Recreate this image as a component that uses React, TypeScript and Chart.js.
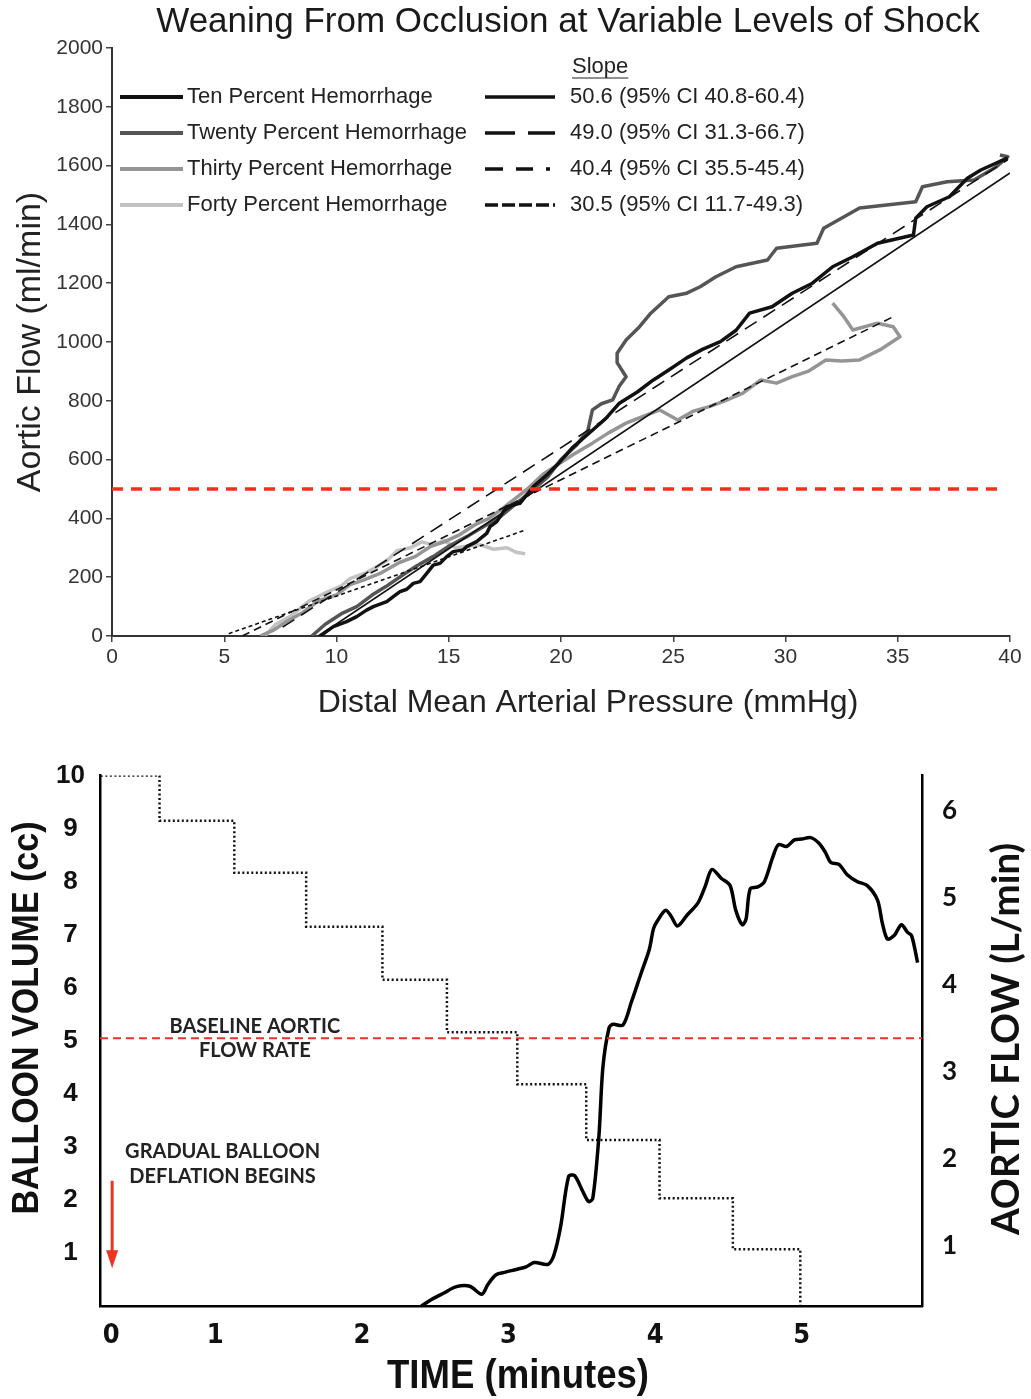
import { useEffect, useRef } from 'react';
import { Chart, registerables } from 'chart.js';

Chart.register(...registerables);

// ================= TOP CHART DATA =================
const topTitle = 'Weaning From Occlusion at Variable Levels of Shock';
const topXTitle = 'Distal Mean Arterial Pressure (mmHg)';
const topYTitle = 'Aortic Flow (ml/min)';
const seriesLabels = [
  'Ten Percent Hemorrhage',
  'Twenty Percent Hemorrhage',
  'Thirty Percent Hemorrhage',
  'Forty Percent Hemorrhage',
];
const slopeHeader = 'Slope';
const slopeLabels = [
  '50.6 (95% CI 40.8-60.4)',
  '49.0 (95% CI 31.3-66.7)',
  '40.4 (95% CI 35.5-45.4)',
  '30.5 (95% CI 11.7-49.3)',
];

const tenPercent: [number, number][] = [
  [9.27, 0], [9.86, 32], [10.45, 49], [10.9, 66], [11.34, 88], [11.64, 100], [12.24, 117],
  [12.53, 134], [12.83, 151], [13.13, 159], [13.42, 179], [13.72, 185], [14.02, 213],
  [14.31, 241], [14.61, 247], [14.91, 270], [15.2, 287], [15.65, 293], [15.8, 304],
  [16.24, 321], [16.69, 349], [16.84, 372], [17.14, 389], [17.43, 423], [17.58, 440],
  [18.17, 451], [18.77, 508], [19.4, 550], [19.95, 592], [20.5, 640], [21.4, 700],
  [22.0, 740], [22.6, 792], [23.4, 830], [24.1, 870], [24.8, 905], [25.6, 946], [26.3, 975],
  [27.1, 1001], [27.8, 1040], [28.4, 1098], [29.4, 1120], [30.3, 1166], [31.2, 1200],
  [32.1, 1256], [33.0, 1290], [34.1, 1336], [35.7, 1364], [35.8, 1421], [36.3, 1460],
  [37.3, 1494], [38.1, 1557], [38.7, 1585], [39.9, 1626],
];
const twentyPercent: [number, number][] = [
  [8.9, 0], [9.5, 40], [10.2, 75], [10.9, 100], [11.6, 140], [12.2, 168], [13.0, 210],
  [13.6, 240], [14.3, 270], [15.0, 305], [15.8, 338], [16.5, 370], [17.3, 406], [18.0, 450],
  [18.75, 497], [19.4, 540], [20.0, 600], [20.7, 650], [21.2, 700], [21.4, 769], [21.8, 790],
  [22.3, 803], [22.6, 850], [22.9, 882], [22.5, 930], [22.5, 962], [22.9, 1007], [23.5, 1052],
  [24.0, 1098], [24.8, 1154], [25.6, 1166], [26.2, 1188], [26.9, 1222], [27.8, 1256],
  [29.2, 1279], [29.6, 1319], [31.4, 1336], [31.7, 1387], [33.3, 1456], [35.8, 1477],
  [36.1, 1528], [37.2, 1545], [38.4, 1551], [39.4, 1596], [39.9, 1630], [39.55, 1636],
];
const thirtyPercent: [number, number][] = [
  [6.6, 0], [7.2, 20], [7.8, 50], [8.5, 80], [9.2, 120], [10.0, 140], [10.6, 175], [11.2, 190],
  [12.0, 215], [12.8, 250], [13.5, 270], [14.2, 305], [14.8, 320], [15.5, 345], [16.2, 380],
  [16.8, 400], [17.5, 440], [18.0, 470], [18.5, 500], [19.2, 550], [19.96, 588], [20.6, 620],
  [21.4, 656], [22.1, 690], [22.9, 724], [23.6, 745], [24.4, 769], [25.2, 735], [25.9, 765],
  [26.6, 780], [27.3, 800], [28.1, 826], [28.9, 871], [29.6, 860], [30.3, 882], [31.0, 900],
  [31.8, 939], [32.5, 935], [33.3, 939], [34.2, 973], [35.1, 1018], [34.8, 1052], [34.1, 1064],
  [33.0, 1041], [32.6, 1086], [32.1, 1132],
];
const fortyPercent: [number, number][] = [
  [6.8, 0], [7.3, 40], [8.0, 70], [8.8, 120], [9.6, 150], [10.2, 170], [10.6, 195], [11.3, 215],
  [11.8, 235], [12.3, 260], [12.7, 290], [13.3, 300], [13.8, 320], [14.3, 310], [14.8, 325],
  [15.3, 300], [15.8, 305], [16.4, 310], [17.0, 295], [17.6, 300], [18.0, 285], [18.4, 280],
];

const tenFit: [number, number][] = [[9.2, 0], [40, 1575]];
const twentyFit: [number, number][] = [[7.6, 30], [39.9, 1620]];
const thirtyFit: [number, number][] = [[5.8, 0], [34.8, 1086]];
const fortyFit: [number, number][] = [[5.2, 8], [18.4, 360]];
const flowThreshold: [number, number][] = [[0, 500], [39.7, 500]];

const topXRange = [0, 40];
const topYRange = [0, 2000];

// ================= BOTTOM CHART DATA =================
const bottomXTitle = 'TIME (minutes)';
const leftTitle = 'BALLOON VOLUME (cc)';
const rightTitle = 'AORTIC FLOW (L/min)';
const baselineText = ['BASELINE AORTIC', 'FLOW RATE'];
const deflationText = ['GRADUAL BALLOON', 'DEFLATION BEGINS'];
const timeTickValues = [0.29, 1, 2, 3, 4, 5];
const timeTickLabels = ['0', '1', '2', '3', '4', '5'];
const volumeTicks = [1, 2, 3, 4, 5, 6, 7, 8, 9, 10];
const flowTicks = [1, 2, 3, 4, 5, 6];
const timeRange = [0.214, 5.82];
const volumeRange = [0, 10];
const flowRange = [0.3, 6.4];

const balloonVolume: [number, number][] = [
  [0.22, 10], [0.62, 9.15], [1.13, 8.17], [1.62, 7.15], [2.14, 6.15], [2.58, 5.16],
  [3.06, 4.18], [3.53, 3.13], [4.03, 2.03], [4.53, 1.07], [4.99, 0],
];
const aorticFlow: [number, number][] = [
  [2.405, 0.3], [2.475, 0.375], [2.56, 0.45], [2.64, 0.52], [2.736, 0.527], [2.818, 0.436],
  [2.86, 0.55], [2.915, 0.66], [2.98, 0.69], [3.052, 0.72], [3.12, 0.75], [3.176, 0.8],
  [3.27, 0.78], [3.31, 0.886], [3.355, 1.21], [3.41, 1.79], [3.45, 1.8], [3.506, 1.62],
  [3.547, 1.5], [3.575, 1.54], [3.616, 2.24], [3.644, 3.05], [3.686, 3.5], [3.713, 3.54],
  [3.78, 3.53], [3.837, 3.79], [3.905, 4.13], [3.96, 4.4], [3.989, 4.64], [4.016, 4.73],
  [4.071, 4.85], [4.11, 4.78], [4.153, 4.67], [4.22, 4.8], [4.29, 4.93], [4.34, 5.12],
  [4.387, 5.32], [4.45, 5.22], [4.511, 5.135], [4.55, 4.85], [4.594, 4.685], [4.62, 4.75],
  [4.648, 5.096], [4.7, 5.12], [4.745, 5.18], [4.8, 5.45], [4.84, 5.605], [4.896, 5.585],
  [4.95, 5.66], [5.0, 5.67], [5.061, 5.687], [5.116, 5.625], [5.16, 5.52], [5.199, 5.4],
  [5.254, 5.38], [5.31, 5.26], [5.38, 5.18], [5.447, 5.135], [5.516, 4.97], [5.55, 4.7],
  [5.584, 4.52], [5.63, 4.56], [5.68, 4.685], [5.72, 4.6], [5.749, 4.56], [5.79, 4.25],
];
const baselineFlow = 3.38;
const baselineLabelTime = 1.27;
const deflationLabelTime = 1.05;
const deflationLabelVolume = [2.91, 2.44];
const arrowVolume = [2.36, 0.71];

// ================= STYLES =================
const SANS = '"Liberation Sans", Arial, Helvetica, sans-serif';
const seriesColors = ['#111111', '#555555', '#959595', '#c2c2c2'];
const fitDash = [[], [14, 8], [8, 5], [4, 3]];
const legendDash = [[], [30, 13], [18, 13, 17, 13, 4, 100], [13, 4]];

const pts = (a: [number, number][]) => a.map(([x, y]) => ({ x, y }));

function drawFitted(ctx: any, text: string, font: string, cx: number, cy: number, width: number, rotate: boolean) {
  ctx.save();
  ctx.translate(cx, cy);
  if (rotate) ctx.rotate(-Math.PI / 2);
  ctx.font = font;
  const w = ctx.measureText(text).width;
  ctx.scale(width / w, 1);
  ctx.textAlign = 'center';
  ctx.textBaseline = 'middle';
  ctx.fillText(text, 0, 0);
  ctx.restore();
}

const topDecor = {
  id: 'topDecor',
  afterDraw(chart: any) {
    const ctx = chart.ctx;
    ctx.save();
    ctx.fillStyle = '#1a1a1a';
    ctx.font = `35px ${SANS}`;
    ctx.textAlign = 'center';
    ctx.textBaseline = 'middle';
    ctx.fillText(topTitle, 568, 22);

    ctx.fillStyle = '#222';
    ctx.font = `32px ${SANS}`;
    ctx.fillText(topXTitle, 588, 703);

    ctx.font = `22px ${SANS}`;
    ctx.textAlign = 'left';
    ctx.fillText(slopeHeader, 572, 67);
    const sw = ctx.measureText(slopeHeader).width;
    ctx.strokeStyle = '#222';
    ctx.lineWidth = 1.2;
    ctx.beginPath();
    ctx.moveTo(572, 78);
    ctx.lineTo(572 + sw, 78);
    ctx.stroke();

    seriesLabels.forEach((lab, i) => {
      const y = 97 + i * 36;
      ctx.setLineDash([]);
      ctx.strokeStyle = seriesColors[i];
      ctx.lineWidth = 4;
      ctx.beginPath();
      ctx.moveTo(120, y);
      ctx.lineTo(183, y);
      ctx.stroke();
      ctx.fillStyle = '#222';
      ctx.fillText(lab, 187, y);

      ctx.setLineDash(legendDash[i]);
      ctx.strokeStyle = '#111';
      ctx.lineWidth = 3.5;
      ctx.beginPath();
      ctx.moveTo(485, y);
      ctx.lineTo(555, y);
      ctx.stroke();
      ctx.setLineDash([]);
      ctx.fillText(slopeLabels[i], 570, y);
    });
    ctx.restore();
  },
};

const bottomDecor = {
  id: 'bottomDecor',
  afterDraw(chart: any) {
    const ctx = chart.ctx;
    const xs = chart.scales.x;
    const ys = chart.scales.y;
    const y2 = chart.scales.y2;
    ctx.save();
    ctx.fillStyle = '#111';
    drawFitted(ctx, leftTitle, `bold 37px ${SANS}`, 28, 278, 393, true);
    drawFitted(ctx, rightTitle, `bold 38px Lato, "Open Sans", sans-serif`, 1007, 299, 392, true);
    drawFitted(ctx, bottomXTitle, `bold 40px ${SANS}`, 518, 637, 262, false);

    ctx.font = `bold 20px Lato, "Open Sans", sans-serif`;
    ctx.textAlign = 'center';
    ctx.textBaseline = 'middle';
    ctx.fillStyle = '#222';
    const by = y2.getPixelForValue(baselineFlow);
    const bx = xs.getPixelForValue(baselineLabelTime);
    ctx.fillText(baselineText[0], bx, by - 12);
    ctx.fillText(baselineText[1], bx, by + 12);
    const dx = xs.getPixelForValue(deflationLabelTime);
    ctx.fillText(deflationText[0], dx, ys.getPixelForValue(deflationLabelVolume[0]));
    ctx.fillText(deflationText[1], dx, ys.getPixelForValue(deflationLabelVolume[1]));

    // arrow
    const ax = xs.getPixelForValue(timeTickValues[0]) + 1;
    const aTop = ys.getPixelForValue(arrowVolume[0]);
    const aBot = ys.getPixelForValue(arrowVolume[1]);
    ctx.strokeStyle = '#ee3322';
    ctx.fillStyle = '#ee3322';
    ctx.lineWidth = 3;
    ctx.beginPath();
    ctx.moveTo(ax, aTop);
    ctx.lineTo(ax, aBot - 16);
    ctx.stroke();
    ctx.beginPath();
    ctx.moveTo(ax - 6, aBot - 18);
    ctx.lineTo(ax + 6, aBot - 18);
    ctx.lineTo(ax, aBot);
    ctx.closePath();
    ctx.fill();
    ctx.restore();
  },
};

function TopChart() {
  const ref = useRef<HTMLCanvasElement>(null);
  useEffect(() => {
    const series = [tenPercent, twentyPercent, thirtyPercent, fortyPercent];
    const fits = [tenFit, twentyFit, thirtyFit, fortyFit];
    const datasets: any[] = [
      {
        label: 'threshold',
        data: pts(flowThreshold),
        showLine: true,
        borderColor: '#ff2b1c',
        borderWidth: 3.5,
        borderDash: [11, 8],
        pointRadius: 0,
      },
      ...fits.map((f, i) => ({
        label: `fit ${i}`,
        data: pts(f),
        showLine: true,
        borderColor: '#111',
        borderWidth: 1.6,
        borderDash: fitDash[i],
        pointRadius: 0,
      })),
      ...series.map((s, i) => ({
        label: seriesLabels[i],
        data: pts(s),
        showLine: true,
        borderColor: seriesColors[i],
        borderWidth: 3.5,
        borderJoinStyle: 'round',
        pointRadius: 0,
      })),
    ];
    const chart = new Chart(ref.current as HTMLCanvasElement, {
      type: 'scatter',
      data: { datasets },
      options: {
        responsive: false,
        animation: false,
        devicePixelRatio: 1,
        layout: { padding: { top: 48, right: 21, left: 0, bottom: 0 } },
        plugins: { legend: { display: false }, tooltip: { enabled: false } },
        scales: {
          x: {
            type: 'linear',
            min: topXRange[0],
            max: topXRange[1],
            afterFit: (s: any) => { s.height = 94; },
            ticks: { stepSize: 5, font: { size: 21, family: SANS }, color: '#333', padding: 3 },
            grid: { drawOnChartArea: false, drawTicks: true, tickLength: 6, color: '#444', lineWidth: 1.5 },
            border: { color: '#333', width: 2 },
          },
          y: {
            type: 'linear',
            min: topYRange[0],
            max: topYRange[1],
            afterFit: (s: any) => { s.width = 112; },
            ticks: { stepSize: 200, font: { size: 21, family: SANS }, color: '#333', padding: 3, callback: (v: any) => String(v) },
            grid: { drawOnChartArea: false, drawTicks: true, tickLength: 6, color: '#444', lineWidth: 1.5 },
            border: { color: '#333', width: 2 },
            title: { display: true, text: topYTitle, font: { size: 34, family: SANS }, color: '#222', padding: { top: 10, bottom: 0 } },
          },
        },
      },
      plugins: [topDecor],
    } as any);
    return () => chart.destroy();
  }, []);
  return (
    <canvas
      ref={ref}
      width={1031}
      height={730}
      style={{ position: 'absolute', left: 0, top: 0, width: 1031, height: 730 }}
    />
  );
}

function BottomChart() {
  const ref = useRef<HTMLCanvasElement>(null);
  useEffect(() => {
    const datasets: any[] = [
      {
        label: 'baseline',
        data: pts([[timeRange[0], baselineFlow], [timeRange[1], baselineFlow]]),
        yAxisID: 'y2',
        showLine: true,
        borderColor: '#e8332a',
        borderWidth: 2,
        borderDash: [8, 5],
        pointRadius: 0,
      },
      {
        label: 'Aortic flow',
        data: pts(aorticFlow),
        yAxisID: 'y2',
        showLine: true,
        borderColor: '#000',
        borderWidth: 3.5,
        tension: 0.3,
        pointRadius: 0,
      },
      {
        label: 'Balloon volume',
        data: pts(balloonVolume),
        yAxisID: 'y',
        showLine: true,
        stepped: 'before',
        borderColor: '#111',
        borderWidth: 2.5,
        borderDash: [2, 2.5],
        pointRadius: 0,
      },
    ];
    const noGrid = { display: false, drawTicks: false };
    const chart = new Chart(ref.current as HTMLCanvasElement, {
      type: 'scatter',
      data: { datasets },
      options: {
        responsive: false,
        animation: false,
        devicePixelRatio: 1,
        layout: { padding: { top: 33, right: 0, left: 0, bottom: 0 } },
        plugins: { legend: { display: false }, tooltip: { enabled: false } },
        scales: {
          x: {
            type: 'linear',
            min: timeRange[0],
            max: timeRange[1],
            afterFit: (s: any) => { s.height = 93; },
            afterBuildTicks: (s: any) => { s.ticks = timeTickValues.map((v) => ({ value: v })); },
            ticks: {
              autoSkip: false,
              maxRotation: 0,
              font: { size: 27, weight: 'bold', family: '"Liberation Sans Narrow", "DejaVu Sans Condensed", Arial, sans-serif' },
              color: '#111',
              padding: 14,
              callback: (_v: any, i: number) => timeTickLabels[i],
            },
            grid: noGrid,
            border: { color: '#000', width: 2.5 },
          },
          y: {
            type: 'linear',
            position: 'left',
            min: volumeRange[0],
            max: volumeRange[1],
            afterFit: (s: any) => { s.width = 100; },
            afterBuildTicks: (s: any) => { s.ticks = volumeTicks.map((v) => ({ value: v })); },
            ticks: { font: { size: 26, weight: 'bold', family: SANS }, color: '#111', padding: 15, crossAlign: 'center' },
            grid: noGrid,
            border: { color: '#000', width: 2.5 },
          },
          y2: {
            type: 'linear',
            position: 'right',
            min: flowRange[0],
            max: flowRange[1],
            afterFit: (s: any) => { s.width = 109; },
            afterBuildTicks: (s: any) => { s.ticks = flowTicks.map((v) => ({ value: v })); },
            ticks: { font: { size: 26, weight: 'bold', family: 'Lato, "Open Sans", sans-serif' }, color: '#111', padding: 20 },
            grid: noGrid,
            border: { color: '#000', width: 2.5 },
          },
        },
      },
      plugins: [bottomDecor],
    } as any);
    return () => chart.destroy();
  }, []);
  return (
    <canvas
      ref={ref}
      width={1031}
      height={659}
      style={{ position: 'absolute', left: 0, top: 740, width: 1031, height: 659 }}
    />
  );
}

export default function App() {
  return (
    <div style={{ position: 'absolute', left: 0, top: 0, width: 1031, height: 1399, background: '#fff' }}>
      <TopChart />
      <BottomChart />
    </div>
  );
}
